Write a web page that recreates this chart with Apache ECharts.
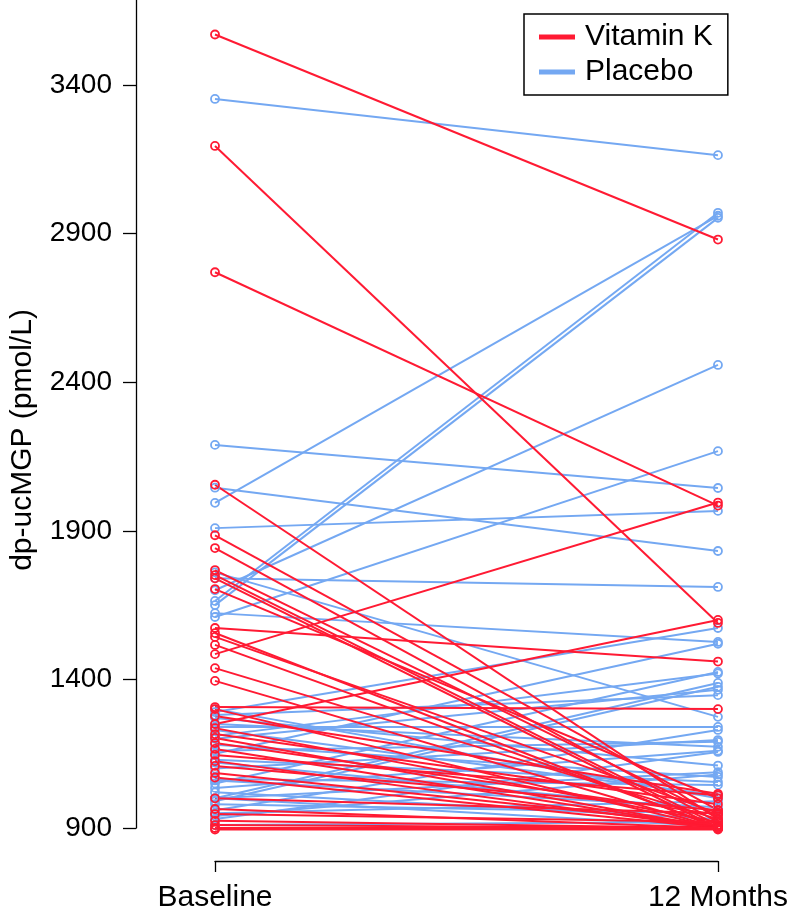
<!DOCTYPE html>
<html>
<head>
<meta charset="utf-8">
<script src="https://cdn.jsdelivr.net/npm/echarts@6/dist/echarts.min.js"></script>
<style>
  html, body { margin: 0; padding: 0; background: #fff; }
  #chart { width: 791px; height: 916px; }
</style>
</head>
<body>
<div id="chart"></div>
<script>
// ---- Data ----
const timeLabels = ['Baseline', '12 Months'];
const yTicks = [900, 1400, 1900, 2400, 2900, 3400];

const vitKBaseline = [3570, 3195, 2770, 2055, 1885, 1842, 1768, 1751, 1740, 1704,
  1573, 1556, 1543, 1516, 1485, 1438, 1395, 1307, 1300, 1250,
  1277, 1236, 1216, 1203, 1186, 1166, 1146, 1125, 1109, 1085,
  1070, 1000, 964, 947, 924, 910, 900, 895];
const vitK12m = [2880, 1590, 1985, 930, 960, 920, 940, 910, 900, 1000,
  1460, 900, 950, 905, 1995, 930, 900, 1300, 900, 1600,
  1015, 920, 980, 900, 945, 900, 1010, 900, 960, 910,
  900, 950, 900, 920, 900, 900, 900, 895];

const placeboBaseline = [3353, 2189, 2045, 1994, 1909, 1760, 1740, 1700, 1664, 1650,
  1623, 1610, 1290, 1150, 1050, 1000, 1200, 1280, 960, 1100,
  1250, 930, 1000, 1180, 1130, 1300, 1060, 980, 1020, 910,
  1000, 950, 1270, 1230, 1160, 1240, 1065, 1035, 990, 1210,
  1120, 940];
const placebo12m = [3164, 2044, 1832, 2960, 1967, 1274, 1711, 2458, 2970, 2953,
  1526, 2168, 1573, 1520, 1425, 1388, 1365, 1347, 1230, 1196,
  1173, 1156, 1088, 1072, 1055, 1000, 970, 950, 930, 920,
  905, 990, 1110, 1010, 1190, 1240, 1045, 1160, 1375, 1420,
  960, 1080];

// ---- Styles ----
const RED = '#FF1A33';
const BLUE = '#74A8F2';
const FONT = '"Liberation Sans", Arial, Helvetica, sans-serif';

function makeSeries(name, color, base, end) {
  return base.map((b, i) => ({
    name: name,
    type: 'line',
    data: [[0, b], [1, end[i]]],
    symbol: 'circle',
    symbolSize: 8,
    clip: false,
    silent: true,
    lineStyle: { color: color, width: 2 },
    itemStyle: { color: 'rgba(0,0,0,0)', borderColor: color, borderWidth: 1.8 },
    emphasis: { disabled: true }
  }));
}

const series = [].concat(
  makeSeries('Placebo', BLUE, placeboBaseline, placebo12m),
  makeSeries('Vitamin K', RED, vitKBaseline, vitK12m)
);

const chart = echarts.init(document.getElementById('chart'), null, { renderer: 'canvas' });
chart.setOption({
  animation: false,
  backgroundColor: '#fff',
  grid: { left: 213, right: 68, top: 0, bottom: 88, containLabel: false },
  legend: {
    orient: 'vertical',
    left: 524,
    top: 14,
    padding: [8, 15, 8, 15],
    itemGap: 5,
    itemWidth: 34,
    itemHeight: 3,
    icon: 'rect',
    borderColor: '#000',
    borderWidth: 1.5,
    selectedMode: false,
    textStyle: { fontFamily: FONT, fontSize: 30, color: '#000', lineHeight: 30, padding: [0, 0, 0, 6] },
    data: [
      { name: 'Vitamin K', itemStyle: { color: RED } },
      { name: 'Placebo', itemStyle: { color: BLUE } }
    ]
  },
  xAxis: {
    type: 'value',
    min: 0,
    max: 1,
    interval: 1,
    position: 'bottom',
    offset: 33,
    splitLine: { show: false },
    axisLine: { show: true, onZero: false, lineStyle: { color: '#000', width: 1.3 } },
    axisTick: { show: true, length: 11, inside: false, lineStyle: { color: '#000', width: 1.3 } },
    axisLabel: {
      margin: 22,
      fontFamily: FONT,
      fontSize: 30,
      color: '#000',
      formatter: v => timeLabels[Math.round(v)] || ''
    }
  },
  yAxis: {
    type: 'value',
    min: 900,
    max: 3686,
    interval: 500,
    position: 'left',
    offset: 79,
    name: 'dp-ucMGP (pmol/L)',
    nameLocation: 'middle',
    nameGap: 98,
    nameTextStyle: { fontFamily: FONT, fontSize: 30, color: '#000', padding: [0, 52, 0, 0] },
    splitLine: { show: false },
    axisLine: { show: true, onZero: false, lineStyle: { color: '#000', width: 1.3 } },
    axisTick: { show: true, length: 13, inside: false, customValues: yTicks, lineStyle: { color: '#000', width: 1.3 } },
    axisLabel: {
      margin: 24,
      fontFamily: FONT,
      fontSize: 28,
      color: '#000',
      customValues: yTicks,
      formatter: v => (yTicks.indexOf(v) >= 0 ? String(v) : '')
    }
  },
  series: series
});
</script>
</body>
</html>
